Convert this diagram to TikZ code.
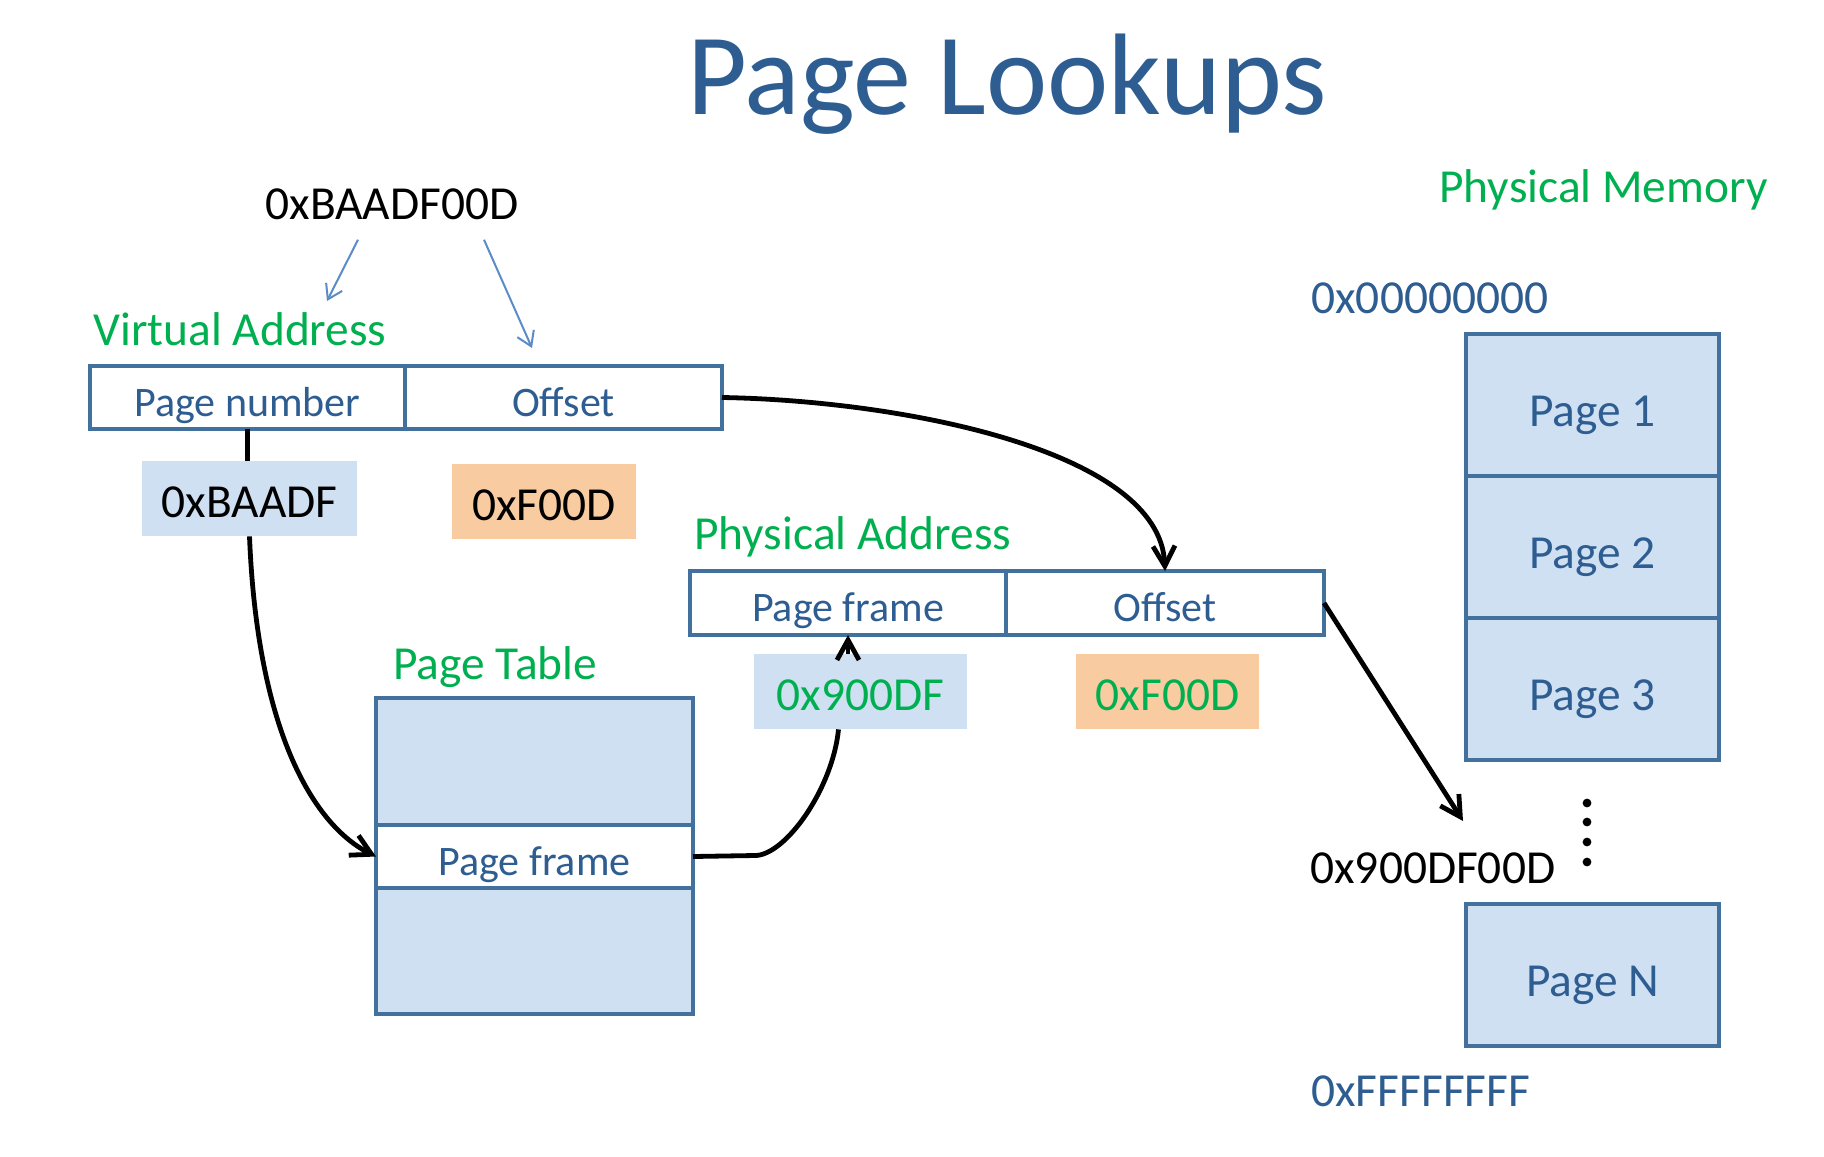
\documentclass[tikz,border=0pt]{standalone}
\usepackage{fontspec}
\setmainfont{Carlito}
\usepackage{xcolor}
\usepackage{tikz}
\usetikzlibrary{arrows.meta,positioning}

\definecolor{boxline}{HTML}{41719C}
\definecolor{boxtext}{HTML}{2E5D91}
\definecolor{pagefill}{HTML}{CFE0F3}
\definecolor{offfill}{HTML}{F9CBA1}
\definecolor{labgreen}{HTML}{00B050}
\definecolor{thinblue}{HTML}{5B8CC8}

\begin{document}
\begin{tikzpicture}[
  x=0.5pt, y=-0.5pt,
  font=\fontsize{23.7}{28}\selectfont,
  node distance=0pt and 0pt,
  cell/.style={draw=boxline, line width=2.4pt, fill=white, outer sep=0pt, inner sep=0pt,
               text=boxtext, text height=18.5pt, text depth=0pt,
               font=\fontsize{21}{25}\selectfont},
  vcell/.style={cell, minimum height=31.5pt},
  pcell/.style={cell, minimum height=32pt},
  ptcell/.style={cell, minimum width=158.5pt, minimum height=31.5pt},
  mem/.style={cell, fill=pagefill, minimum width=126.5pt, minimum height=71pt,
              text height=21pt, font=\fontsize{23.7}{28}\selectfont},
  val/.style={inner sep=0pt, minimum height=37.5pt, text height=19pt, text depth=0pt},
  tag/.style={inner sep=0pt},
  arr/.style={-{Straight Barb[length=10pt,width=11pt]}, line width=2.4pt},
  line/.style={line width=2.4pt},
  thinarr/.style={-{Straight Barb[length=7pt,width=9pt]}, line width=1pt, thinblue}
]
\fill[white] (0,0) rectangle (1824,1156);
\useasboundingbox (0,0) rectangle (1824,1156);

\node[tag, anchor=base, text=boxtext] (title) at (1007,114) {\fontsize{58}{69}\selectfont Page Lookups};

% virtual address
\node[tag, anchor=base] (vaddr) at (392,219) {0xBAADF00D};
\node[tag, anchor=base west, text=labgreen] (vlab) at (93,345) {Virtual Address};
\node[vcell, minimum width=157.5pt] (vpn) at (247.5,397.5) {Page number};
\node[vcell, minimum width=158.5pt, right=of vpn] (voff) {Offset};
\node[val, fill=pagefill, minimum width=107.5pt] (bnum) at (249.5,498.5) {0xBAADF};
\node[val, fill=offfill, minimum width=92pt] (boff) at (544,501) {0xF00D};

% physical address
\node[tag, anchor=base west, text=labgreen] (plab) at (694,549) {Physical Address};
\node[pcell, minimum width=158pt] (pfr) at (848,603) {Page frame};
\node[pcell, minimum width=159pt, right=of pfr] (poff) {Offset};
\node[val, fill=pagefill, text=labgreen, minimum width=106.5pt] (pnum) at (860.5,691.5) {0x900DF};
\node[val, fill=offfill, text=labgreen, minimum width=91.5pt] (poffv) at (1167.5,691.5) {0xF00D};

% page table
\node[tag, anchor=base west, text=labgreen] (ptlab) at (393,679) {Page Table};
\node[ptcell, fill=pagefill, minimum height=63.5pt] (pttop) at (534.5,761.5) {};
\node[ptcell, below=of pttop] (ptrow) {Page frame};
\node[ptcell, fill=pagefill, minimum height=63pt, below=of ptrow] (ptbot) {};

% physical memory
\node[tag, anchor=base west, text=labgreen] (mlab) at (1439,202) {Physical Memory};
\node[tag, anchor=base west, text=boxtext] (mtop) at (1311,313) {0x00000000};
\node[mem] (pg1) at (1592.5,405) {Page 1};
\node[mem, below=of pg1] (pg2) {Page 2};
\node[mem, below=of pg2] (pg3) {Page 3};
\foreach \y in {803,822,842,862}
  \fill (1587,\y) circle (2.2pt);
\node[tag, anchor=base west] (mhit) at (1310,883) {0x900DF00D};
\node[mem] (pgn) at (1592.5,975) {Page N};
\node[tag, anchor=base west, text=boxtext] (mend) at (1311,1106) {0xFFFFFFFF};

\coordinate (vtip1) at (327,301);
\coordinate (vtip2) at (532,348);
\coordinate (hit) at (1463,821);

\draw[thinarr] ([xshift=-17pt,yshift=-10pt]vaddr.south) -- (vtip1);
\draw[thinarr] ([xshift=46pt,yshift=-10pt]vaddr.south) -- (vtip2);
\draw[line] (vpn.south) -- (vpn.south |- bnum.north);
\draw[arr] (bnum.south) .. controls +(8,200) and +(-60,-30) .. (ptrow.west);
\draw[arr] (voff.east) .. controls +(178,3) and +(-5,-121) .. (poff.north);
\draw[line] (ptrow.east) -- ++(62,-1) .. controls +(30,0) and +(-6,60) .. ([xshift=-11pt]pnum.south);
\draw[arr] (pfr.south |- pnum.north) -- (pfr.south);
\draw[arr] (poff.east) -- (hit);
\end{tikzpicture}
\end{document}
